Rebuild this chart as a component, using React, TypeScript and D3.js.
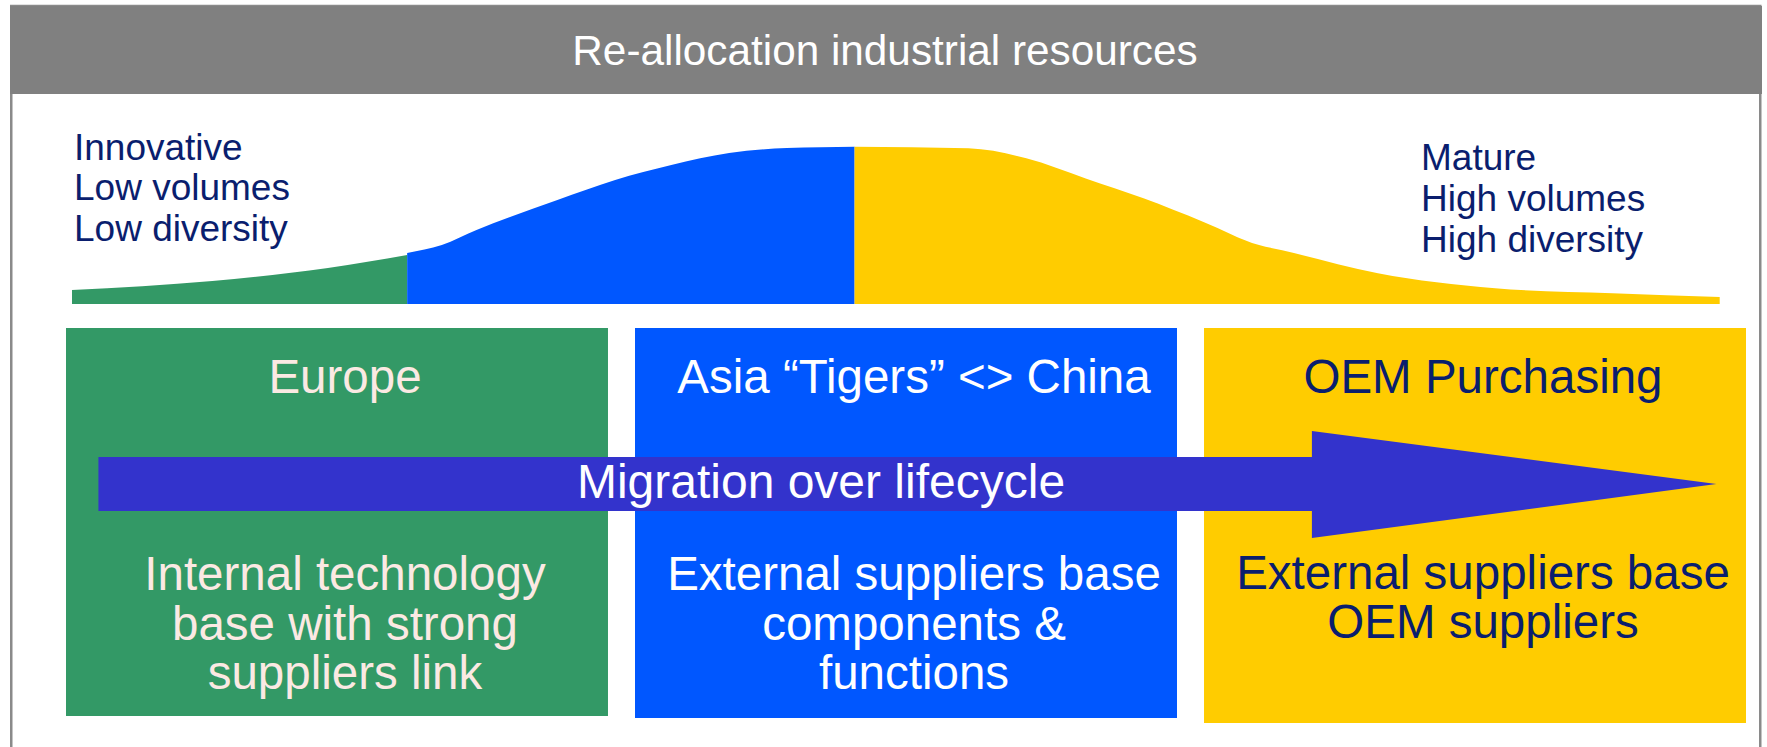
import * as d3 from "d3";

const W = 1767;
const H = 747;

// lifecycle position (% of span) vs volume (% of peak)
const europeCurve: [number, number][] = [
  [0, 8.9], [8.5, 14.6], [15.5, 22.8], [20.3, 31.0],
];
const asiaCurve: [number, number][] = [
  [20.3, 32.3], [22.4, 37.3], [24.5, 46.8], [29.4, 65.8], [32.9, 78.5],
  [36.3, 88.0], [39.8, 95.6], [43.3, 98.7], [47.4, 99.6],
];
const oemCurve: [number, number][] = [
  [47.4, 99.6], [54.3, 98.5], [57.8, 92.2], [61.4, 79.5], [64.9, 66.9],
  [68.5, 52.1], [71.9, 37.3], [73.3, 34.0], [79.1, 19.4], [86.2, 9.9],
  [93.3, 6.8], [99.8, 4.4],
];

const title = "Re-allocation industrial resources";
const stages = ["Europe", "Asia “Tigers” <> China", "OEM Purchasing"];
const stageDescriptions = [
  ["Internal technology", "base with strong", "suppliers link"],
  ["External suppliers base", "components &", "functions"],
  ["External suppliers base", "OEM suppliers"],
];
const startLabels = ["Innovative", "Low volumes", "Low diversity"];
const endLabels = ["Mature", "High volumes", "High diversity"];
const arrowLabel = "Migration over lifecycle";
// tail, head start, tip (lifecycle %)
const arrowStops = [1.6, 75.1, 99.6];

const stageColors = ["#339966", "#0057ff", "#ffcc00"];
const stageTextColors = ["#fbe9e3", "#ffffff", "#0a1e6e"];
const navy = "#0a1e6e";
const FONT = "'Liberation Sans', Arial, Helvetica, sans-serif";

const boxTop = 328;
const boxBottoms = [716, 718, 723];

export default function App() {
  const x = d3.scaleLinear().domain([0, 100]).range([72, 1723]);
  const y = d3.scaleLinear().domain([0, 100]).range([304, 146]);

  const area = d3
    .area<[number, number]>()
    .x((d) => x(d[0]))
    .y0(y(0))
    .y1((d) => y(d[1]))
    .curve(d3.curveMonotoneX);

  const band = d3
    .scaleBand<string>()
    .domain(stages)
    .range([66, 1746])
    .paddingInner(0.0475)
    .paddingOuter(0);

  const curves = [europeCurve, asiaCurve, oemCurve];

  // arrow geometry
  const shaftTop = 457;
  const shaftBot = 511;
  const headTop = 431;
  const headBot = 538;
  const midY = (shaftTop + shaftBot) / 2;
  const [ax0, ax1, ax2] = arrowStops.map((v) => x(v));
  const arrowPath = d3.path();
  arrowPath.moveTo(ax0, shaftTop);
  arrowPath.lineTo(ax1, shaftTop);
  arrowPath.lineTo(ax1, headTop);
  arrowPath.lineTo(ax2, midY);
  arrowPath.lineTo(ax1, headBot);
  arrowPath.lineTo(ax1, shaftBot);
  arrowPath.lineTo(ax0, shaftBot);
  arrowPath.closePath();

  return (
    <svg
      width={W}
      height={H}
      style={{ position: "absolute", left: 0, top: 0, background: "#fff" }}
      fontFamily={FONT}
    >
      {/* frame */}
      <rect x={11.25} y={6} width={1749} height={H + 20} fill="#fff" stroke="#8a8a8a" strokeWidth={2.5} />
      <rect x={10} y={6} width={1752} height={88} fill="#808080" />
      <text x={885} y={65} textAnchor="middle" fontSize={42.3} fill="#fff">
        {title}
      </text>

      {/* lifecycle curve */}
      {curves.map((c, i) => (
        <path key={i} d={area(c) ?? ""} fill={stageColors[i]} />
      ))}

      {startLabels.map((t, i) => (
        <text key={t} x={74} y={159.5 + i * 40.7} fontSize={37} fill={navy}>
          {t}
        </text>
      ))}
      {endLabels.map((t, i) => (
        <text key={t} x={1421} y={170 + i * 41} fontSize={37} fill={navy}>
          {t}
        </text>
      ))}

      {/* stage boxes */}
      {stages.map((s, i) => {
        const bx = band(s) ?? 0;
        const cx = bx + band.bandwidth() / 2 + 8;
        return (
          <g key={s}>
            <rect x={bx} y={boxTop} width={band.bandwidth()} height={boxBottoms[i] - boxTop} fill={stageColors[i]} />
            <text x={cx} y={393} textAnchor="middle" fontSize={47.5} fill={stageTextColors[i]}>
              {s}
            </text>
          </g>
        );
      })}

      {/* migration arrow */}
      <path d={arrowPath.toString()} fill="#3333cc" />
      <text x={821} y={497.5} textAnchor="middle" fontSize={48} fill="#fff">
        {arrowLabel}
      </text>

      {stages.map((s, i) => {
        const cx = (band(s) ?? 0) + band.bandwidth() / 2 + 8;
        return stageDescriptions[i].map((line, j) => (
          <text
            key={s + j}
            x={cx}
            y={(i === 2 ? 588.5 : 590) + j * 49.5}
            textAnchor="middle"
            fontSize={47.5}
            fill={stageTextColors[i]}
          >
            {line}
          </text>
        ));
      })}
    </svg>
  );
}
